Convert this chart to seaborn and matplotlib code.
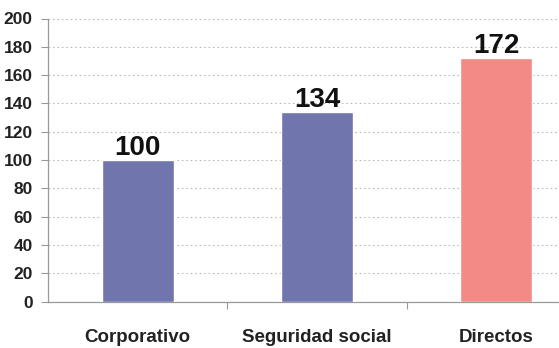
import matplotlib
matplotlib.use("Agg")
import matplotlib.pyplot as plt
import seaborn as sns
import pandas as pd

categories = ["Corporativo", "Seguridad social", "Directos"]
values = [100, 134, 172]
colors = ["#7175AE", "#7175AE", "#F38A85"]
yticks = [0, 20, 40, 60, 80, 100, 120, 140, 160, 180, 200]

sns.set_theme(style="white")
plt.rcParams["font.family"] = ["Liberation Sans", "DejaVu Sans"]

df = pd.DataFrame({"cat": categories, "val": values})

fig = plt.figure(figsize=(5.59, 3.48), dpi=100)
ax = fig.add_axes([48 / 559, 1 - 301.5 / 348, 1 - 48 / 559, (301.5 - 18.5) / 348])

sns.barplot(data=df, x="cat", y="val", hue="cat", palette=colors, legend=False,
            width=0.4, saturation=1, ax=ax, zorder=3)

ax.set_ylim(0, 200)
ax.set_xlim(-0.5, 2.35)
ax.set_yticks(yticks)
ax.set_yticklabels([str(t) for t in yticks], fontweight="bold", fontsize=12.5, color="#222222")
ax.yaxis.grid(True, linestyle=(0, (1.5, 2.5)), color="#BBBBBB", linewidth=0.8, zorder=0)
ax.set_axisbelow(True)

ax.set_xlabel("")
ax.set_ylabel("")
ax.set_xticks(range(len(categories)))
ax.set_xticklabels(categories, fontweight="bold", fontsize=13.5, color="#222222")
ax.tick_params(axis="x", which="major", length=0, pad=19.5, bottom=True)
ax.set_xticks([0.5, 1.5], minor=True)
ax.tick_params(axis="x", which="minor", length=5, color="#999999", width=0.8,
               direction="out", bottom=True)
ax.tick_params(axis="y", length=5, color="#999999", width=0.8, direction="out",
               pad=6, left=True)

for s in ["top", "right"]:
    ax.spines[s].set_visible(False)
for s in ["left", "bottom"]:
    ax.spines[s].set_color("#999999")
    ax.spines[s].set_linewidth(0.9)

for i, v in enumerate(values):
    ax.text(i, v - 0.5, str(v), ha="center", va="bottom", fontsize=20,
            fontweight="bold", color="#111111")

fig.savefig("out.png", dpi=100)
